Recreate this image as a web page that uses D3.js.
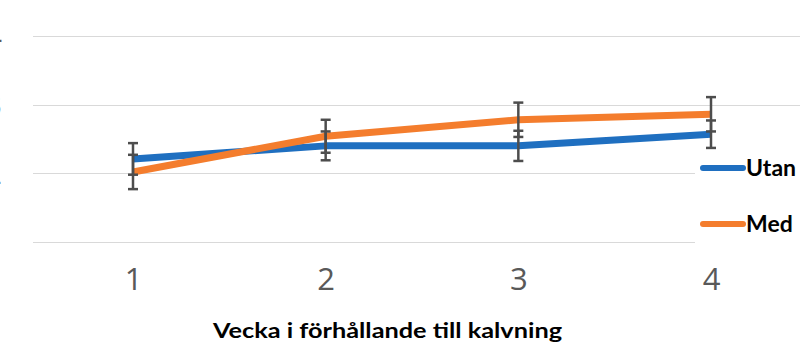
<!DOCTYPE html>
<html>
<head>
<meta charset="utf-8">
<script src="https://cdn.jsdelivr.net/npm/d3@7"></script>
<style>
  body { margin: 0; background: #fff; }
  svg { display: block; }
</style>
</head>
<body>
<script>
// Veckor kring kalvning, två grupper (Utan / Med)
const weeks = [1, 2, 3, 4];
const yTicks = [1, 2, 3, 4];
const seriesNames = ['Utan', 'Med'];
const utan = [2.21, 2.40, 2.40, 2.57];
const med = [2.02, 2.54, 2.78, 2.86];
const utanErr = [0.23, 0.21, 0.22, 0.20];
const medErr = [0.25, 0.24, 0.25, 0.25];

const WIDTH = 800, HEIGHT = 352;
const colors = {Utan: '#1f6fc0', Med: '#f47d2d'};

const svg = d3.select('body').append('svg')
    .attr('width', WIDTH)
    .attr('height', HEIGHT);

const x = d3.scaleLinear().domain([1, 4]).range([133, 711]);
const y = d3.scaleLinear().domain([1, 4]).range([242, 36]);

// rutnät
svg.append('g')
    .selectAll('line')
    .data(yTicks)
    .enter().append('line')
        .attr('x1', 33)
        .attr('x2', WIDTH)
        .attr('y1', d => Math.round(y(d)) + 0.5)
        .attr('y2', d => Math.round(y(d)) + 0.5)
        .attr('stroke', '#d9d9d9')
        .attr('stroke-width', 1);

// y-etiketter, nästan helt utanför bilden
svg.append('g')
    .selectAll('text')
    .data(yTicks)
    .enter().append('text')
        .attr('x', 2)
        .attr('y', d => y(d))
        .attr('dy', '0.35em')
        .attr('text-anchor', 'end')
        .attr('fill', '#595959')
        .style('font', '31px "Open Sans", sans-serif')
        .text(d => d);

// x-axel (bara etiketter)
const xAxis = d3.axisBottom(x).tickValues(weeks).tickFormat(d3.format('d')).tickSize(0).tickPadding(0);
const gx = svg.append('g')
    .attr('transform', 'translate(0,268)')
    .call(xAxis);
gx.select('.domain').remove();
gx.selectAll('text')
    .attr('dy', '0.71em')
    .attr('fill', '#595959')
    .style('font', '31px "Open Sans", sans-serif');

svg.append('text')
    .attr('x', 213)
    .attr('y', 338)
    .attr('textLength', 349)
    .attr('lengthAdjust', 'spacingAndGlyphs')
    .attr('fill', '#000')
    .style('font', 'bold 20px Lato, sans-serif')
    .text('Vecka i förhållande till kalvning');

const data = {
    Utan: weeks.map((w, i) => ({w, v: utan[i], e: utanErr[i]})),
    Med: weeks.map((w, i) => ({w, v: med[i], e: medErr[i]}))
};

const line = d3.line()
    .x(d => x(d.w))
    .y(d => y(d.v));

// linjer
seriesNames.forEach(name => {
    svg.append('path')
        .datum(data[name])
        .attr('fill', 'none')
        .attr('stroke', colors[name])
        .attr('stroke-width', 7)
        .attr('stroke-linejoin', 'round')
        .attr('d', line);
});

// felstaplar
seriesNames.forEach(name => {
    const g = svg.append('g').selectAll('g')
        .data(data[name])
        .enter().append('g')
            .attr('stroke', '#4d4d4d')
            .attr('stroke-width', 2.5);
    g.append('line')
        .attr('x1', d => x(d.w)).attr('x2', d => x(d.w))
        .attr('y1', d => y(d.v + d.e)).attr('y2', d => y(d.v - d.e));
    g.append('line')
        .attr('x1', d => x(d.w) - 5).attr('x2', d => x(d.w) + 5)
        .attr('y1', d => y(d.v + d.e)).attr('y2', d => y(d.v + d.e));
    g.append('line')
        .attr('x1', d => x(d.w) - 5).attr('x2', d => x(d.w) + 5)
        .attr('y1', d => y(d.v - d.e)).attr('y2', d => y(d.v - d.e));
});

// förklaring
const legend = svg.append('g');
legend.append('rect')
    .attr('x', 695).attr('y', 150)
    .attr('width', 105).attr('height', 100)
    .attr('fill', '#fff');

const item = legend.selectAll('.legend')
    .data(seriesNames)
    .enter().append('g')
        .attr('class', 'legend')
        .attr('transform', (d, i) => `translate(0,${168 + i * 56})`);

item.append('line')
    .attr('x1', 703).attr('x2', 743)
    .attr('y1', 0).attr('y2', 0)
    .attr('stroke', d => colors[d])
    .attr('stroke-width', 6)
    .attr('stroke-linecap', 'round');

item.append('text')
    .attr('x', 746)
    .attr('y', 8)
    .attr('fill', '#000')
    .style('font', 'bold 23px Lato, sans-serif')
    .text(d => d);
</script>
</body>
</html>
